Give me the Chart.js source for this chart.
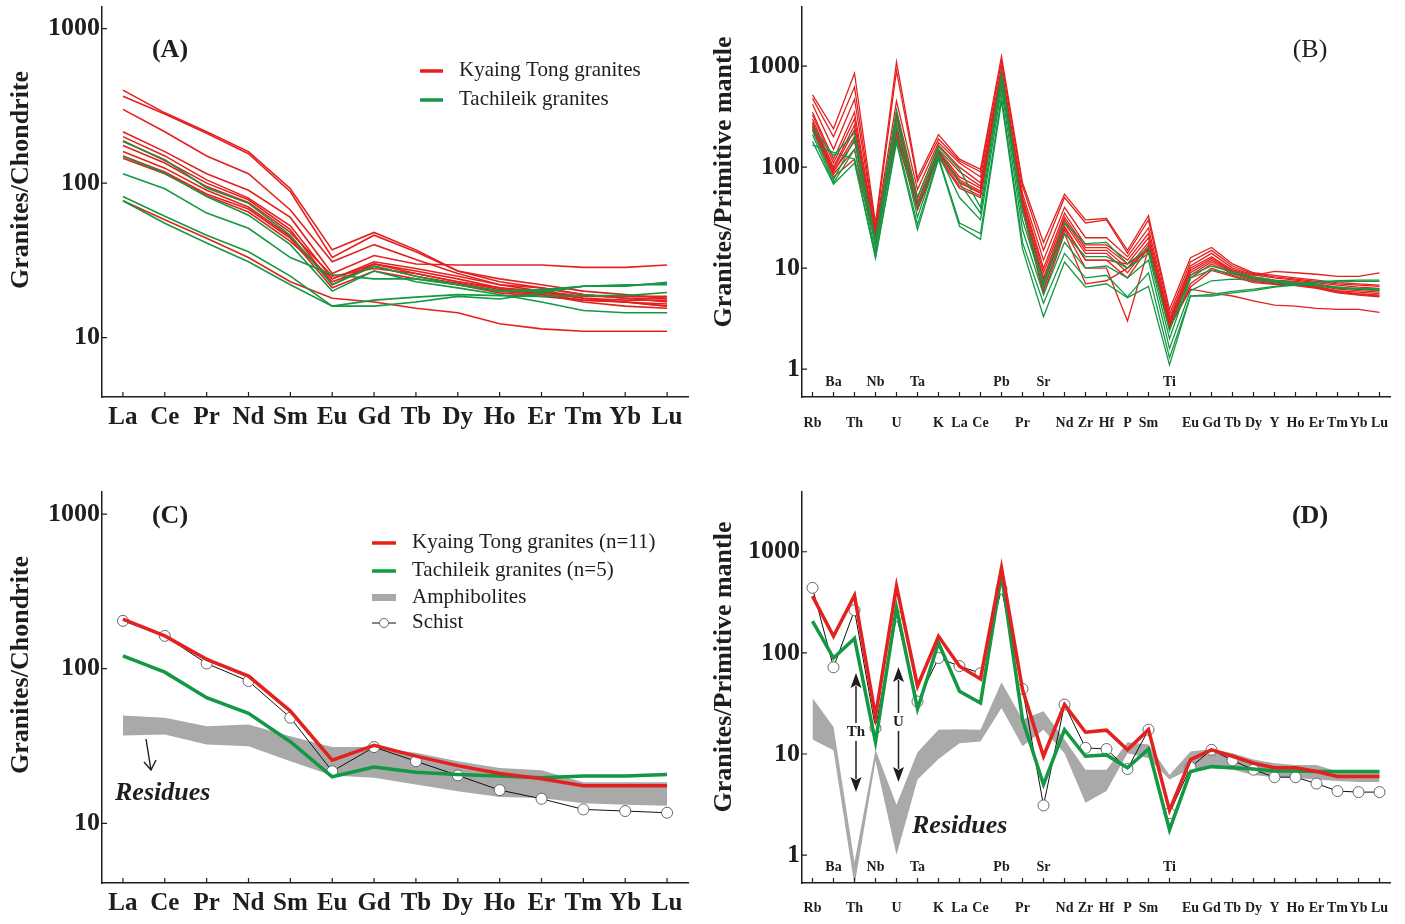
<!DOCTYPE html>
<html lang="en">
<head>
<meta charset="UTF-8">
<title>Chondrite and primitive mantle normalised patterns</title>
<script src="https://cdn.jsdelivr.net/npm/chart.js"></script>
<style>
  body { margin: 0; background: #fff; }
  #wrap { position: relative; width: 1405px; height: 924px; overflow: hidden; }
  #wrap canvas { position: absolute; }
  #cA { left: 0; top: 0; }
  #cB { left: 700px; top: 0; }
  #cC { left: 0; top: 462px; }
  #cD { left: 700px; top: 462px; }
</style>
</head>
<body>
<div id="wrap">
  <canvas id="cA" width="700" height="462"></canvas>
  <canvas id="cB" width="705" height="462"></canvas>
  <canvas id="cC" width="700" height="462"></canvas>
  <canvas id="cD" width="705" height="462"></canvas>
</div>
<script>
// ---- data ----
const reeLabels = ['La','Ce','Pr','Nd','Sm','Eu','Gd','Tb','Dy','Ho','Er','Tm','Yb','Lu'];
const spiderLabels = ['Rb','Ba','Th','Nb','U','Ta','K','La','Ce','Pb','Pr','Sr','Nd','Zr','Hf','P','Sm','Ti','Eu','Gd','Tb','Dy','Y','Ho','Er','Tm','Yb','Lu'];
const spiderRaised = ['Ba','Nb','Ta','Pb','Sr','Ti'];   // labels printed above the axis
const chondriteTicks = [10, 100, 1000];
const mantleTicks = [1, 10, 100, 1000];

// (A) individual samples, chondrite normalised
const kyaingTongREE = [
  [400, 285, 215, 160, 92, 37, 48, 37, 27, 23, 21, 19, 18, 17],
  [365, 280, 210, 155, 88, 33, 46, 36, 27, 24, 22, 20, 19, 18],
  [300, 215, 150, 115, 67, 31, 40, 32, 26, 22, 21, 19, 18, 18],
  [215, 160, 115, 90, 60, 26, 34, 30, 29.5, 29.5, 29.5, 28.5, 28.5, 29.5],
  [200, 150, 105, 80, 53, 24, 31, 28, 25, 22, 20, 18, 17, 16],
  [188, 140, 100, 78, 50, 22, 30, 27, 24, 21, 19, 17.5, 17, 16],
  [175, 135, 95, 75, 48, 25, 28, 26, 23, 20.5, 19.5, 18, 17.5, 17.5],
  [160, 125, 90, 70, 45, 23, 29, 25, 22.5, 20, 19, 17, 16, 15.5],
  [150, 118, 85, 68, 44, 21, 27, 24, 22, 19.5, 18.5, 17.5, 17, 16.5],
  [145, 115, 83, 65, 42, 24, 30, 26, 23, 21, 20, 18.5, 18.5, 18.5],
  [77, 58, 44, 33, 23, 18, 17, 15.5, 14.5, 12.3, 11.4, 11, 11, 11]
];
const tachileikREE = [
  [186, 142, 93, 74, 46, 22, 29, 25, 22, 20, 20, 21.5, 21.7, 22.6],
  [149, 116, 82, 62, 40, 20, 27, 23, 21, 19, 17, 15, 14.5, 14.5],
  [115, 92, 64, 51, 33, 25.5, 24, 24, 22, 20, 20.5, 21.5, 21.5, 22.8],
  [82, 61, 46, 36, 25, 16, 17.5, 18.3, 19, 18.7, 18.5, 18.7, 18.7, 19.6],
  [77, 55, 41, 31, 22, 16, 16, 17, 18.5, 17.8, 19.5, 21.5, 22, 22]
];

// (B) individual samples, primitive mantle normalised
const kyaingTongSpider = [
  [520, 240, 850, 28, 1100, 78, 210, 120, 95, 1250, 70, 18, 54, 30, 31, 15, 33, 3.9, 12.7, 16, 11, 9, 8.5, 8, 7.6, 7.2, 7, 6.8],
  [480, 200, 620, 25, 900, 72, 190, 115, 90, 1100, 65, 15, 50, 28, 30, 14, 30, 3.5, 11.5, 15, 10.5, 8.8, 8.2, 7.8, 7.4, 7, 6.8, 6.6],
  [420, 150, 470, 24, 450, 60, 175, 110, 80, 950, 55, 12, 40, 20, 20, 13, 25, 3.2, 10.5, 14, 10, 8.6, 8, 7.6, 7.2, 6.8, 6.5, 6.3],
  [350, 120, 350, 22, 350, 50, 165, 100, 70, 900, 50, 10, 35, 17, 17, 12, 22, 3.0, 10, 13, 9.6, 8.5, 9.3, 9, 8.7, 8.3, 8.3, 9],
  [330, 110, 300, 21, 330, 45, 150, 90, 65, 850, 48, 9, 32, 16, 16, 11, 20, 2.9, 9.5, 12.5, 9.4, 8.2, 7.6, 7.4, 7.0, 6.5, 6.2, 6.0],
  [300, 100, 260, 20, 300, 42, 145, 80, 62, 800, 45, 8, 30, 15, 15, 10, 18, 2.8, 9, 12, 9.2, 8.0, 7.4, 7.2, 6.8, 6.2, 6.0, 5.8],
  [280, 95, 235, 20, 260, 40, 140, 75, 58, 780, 42, 7.5, 28, 14, 14, 9, 17, 2.7, 8.5, 11.5, 9, 7.8, 7.3, 7, 6.6, 6.0, 5.8, 5.6],
  [260, 90, 200, 19, 230, 40, 135, 70, 55, 750, 40, 7, 26, 12, 12, 8, 16, 2.6, 8, 11, 8.8, 7.6, 7.1, 6.9, 6.5, 5.9, 5.6, 5.4],
  [250, 85, 150, 18, 210, 38, 130, 65, 52, 720, 38, 6, 24, 10, 10, 3.0, 15.5, 2.5, 7, 10, 8.5, 7.4, 7, 6.8, 6.4, 5.8, 5.5, 5.3],
  [240, 80, 120, 18, 200, 38, 125, 62, 50, 700, 38, 5.5, 22, 7, 7.5, 10, 15.5, 2.6, 6.5, 9.5, 8.3, 7.2, 6.9, 6.7, 6.3, 5.7, 5.4, 5.2],
  [270, 90, 180, 19, 240, 40, 140, 72, 56, 760, 40, 7, 25, 12, 12, 11, 15, 2.6, 6.2, 5.7, 5.3, 4.75, 4.3, 4.2, 4.0, 3.9, 3.9, 3.64]
];
const tachileikSpider = [
  [250, 130, 218, 19, 370, 50, 160, 95, 40, 850, 37, 7.2, 28, 17.5, 18, 11, 16, 2.4, 8.5, 10.5, 9.2, 8.2, 7.6, 7.2, 6.8, 6.4, 6.2, 6.2],
  [230, 75, 190, 16, 300, 40, 150, 70, 35, 700, 30, 6.5, 22, 13, 13, 10, 14, 2.0, 8, 9.6, 8.8, 8, 7.4, 7.0, 6.7, 6.3, 6.2, 6.0],
  [210, 70, 150, 14, 250, 32, 135, 50, 30, 600, 24, 5.5, 18, 10, 10.5, 8, 12, 1.6, 6, 7.5, 7.8, 7.6, 7.2, 6.9, 6.7, 6.5, 6.3, 6.2],
  [180, 68, 110, 13, 190, 27, 125, 28, 22, 500, 18, 4.5, 14, 8, 8.5, 5.2, 9, 1.3, 5.3, 5.3, 5.7, 6.0, 6.5, 6.8, 7.2, 7.3, 7.4, 7.4],
  [165, 140, 120, 12.5, 175, 24, 120, 26, 19.3, 450, 15.5, 3.3, 11.5, 6.5, 7, 5.1, 6.6, 1.1, 5.3, 5.5, 5.9, 6.2, 6.6, 7.0, 7.3, 7.5, 7.6, 7.6]
];

// (C) averages, schist and amphibolite field, chondrite normalised
const kyaingTongMeanREE = [209, 163, 115, 89.6, 53.2, 25.6, 31.9, 27.2, 23.6, 21, 19.4, 17.5, 17.5, 17.5];
const tachileikMeanREE = [121, 95, 65, 51.4, 33.7, 20, 23.1, 21.4, 20.7, 20.2, 19.7, 20.2, 20.2, 20.7];
const schistREE = [204, 163, 108, 83.2, 48.2, 21.7, 31.1, 25.2, 20.4, 16.4, 14.4, 12.3, 12.0, 11.7];
const amphiboliteREEUpper = [49.9, 48.2, 42.5, 43.6, 36.6, 31.1, 31.1, 28.6, 25.2, 22.8, 22, 18.4, 18.4, 18.4];
const amphiboliteREELower = [37, 37.6, 32.3, 31.5, 25.2, 20.4, 19.7, 17.8, 16.1, 14.8, 14.6, 13.5, 13.2, 13.0];

// (D) averages, schist and amphibolite field, primitive mantle normalised
const kyaingTongMeanSpider = [364, 146, 370, 23.6, 457, 46.8, 146, 73.8, 55.3, 695, 43.4, 9.5, 30.8, 16.4, 17.2, 11, 17.4, 2.77, 8.8, 11, 9.5, 8.1, 7.3, 7.3, 6.7, 6.0, 6.0, 6.0];
const tachileikMeanSpider = [206, 89, 139, 13.1, 279, 27.9, 126, 41.7, 32, 597, 21.9, 5.0, 17.4, 9.5, 9.8, 7.3, 11.2, 1.78, 6.7, 7.5, 7.3, 7.1, 6.8, 6.8, 6.7, 6.7, 6.7, 6.7];
const schistSpider = [440, 72, 264, 18, 231, 33, 89, 74, 63, 430, 44, 3.1, 30.8, 11.5, 11.2, 7.1, 17.4, 2.6, 7.4, 11, 8.65, 7.0, 5.9, 5.9, 5.1, 4.3, 4.2, 4.2];
const amphiboliteSpiderUpper = [35.8, 18.5, 0.85, 11, 3.15, 10.4, 17.4, 17.6, 17.4, 51.3, 21.9, 26.5, 13.9, 7.0, 7.0, 13.1, 12.4, 6.2, 10.6, 11.2, 10.2, 8.8, 8.1, 7.8, 7.8, 6.7, 6.7, 6.7];
const amphiboliteSpiderLower = [13.9, 10.9, 0.5, 8.6, 1.0, 5.6, 8.9, 12.8, 13.3, 28.5, 11.9, 17.4, 10.2, 3.3, 4.3, 10.2, 9.1, 5.6, 7.1, 7.3, 7.0, 6.2, 5.9, 5.8, 5.6, 5.4, 5.3, 5.3];

// ---- styling ----
const SERIF = '"Liberation Serif", "Times New Roman", serif';
const RED = '#e3211f';
const GREEN = '#139843';
const GREY = '#a9a9a9';
const INK = '#1e1e1e';
Chart.defaults.font.family = SERIF;

function sampleLines(rows, color, width, order) {
  return rows.map(r => ({ data: r, borderColor: color, borderWidth: width, pointRadius: 0, fill: false, order }));
}
function schistLine(data) {
  return { data, borderColor: '#111', borderWidth: 1, pointRadius: 5.5, pointBorderWidth: 1,
           pointBorderColor: '#666', pointBackgroundColor: '#fff', fill: false, order: 2 };
}
function band(upper, lower) {
  return [
    { data: upper, borderWidth: 0, borderColor: 'rgba(0,0,0,0)', pointRadius: 0, fill: '+1', backgroundColor: GREY, order: 3 },
    { data: lower, borderWidth: 0, borderColor: 'rgba(0,0,0,0)', pointRadius: 0, fill: false, order: 4 }
  ];
}

function yAxis(min, max, ticks) {
  return {
    type: 'logarithmic', min, max, bounds: 'data',
    afterBuildTicks: s => { s.ticks = ticks.map(v => ({ value: v })); },
    afterFit: s => { s.width = 102; s.paddingTop = 0; s.paddingBottom = 0; },
    grid: { display: false, drawTicks: false },
    border: { display: true, color: INK, width: 1.5 },
    ticks: { padding: 2, color: INK, font: { size: 26, weight: 'bold', lineHeight: 1 }, callback: v => String(v) }
  };
}
function xAxis(height, size, padding, hidden) {
  return {
    type: 'category', offset: true,
    afterFit: s => { s.height = height; s.paddingLeft = 0; s.paddingRight = 0; },
    grid: { display: false, drawTicks: false, offset: true },
    border: { display: true, color: INK, width: 1.5 },
    ticks: {
      autoSkip: false, maxRotation: 0, minRotation: 0, padding, color: INK,
      font: { size, weight: 'bold', lineHeight: 1 },
      callback: function (v, i) { const l = this.getLabelForValue(v); return hidden.includes(l) ? '' : l; }
    }
  };
}

function txt(ctx, s, x, y, font, align) {
  ctx.font = font; ctx.fillStyle = INK; ctx.textAlign = align || 'left'; ctx.textBaseline = 'middle';
  ctx.fillText(s, x, y);
}
function dblArrow(ctx, x, y1, y2) {
  const h = 15, w = 5.5;
  ctx.strokeStyle = INK; ctx.fillStyle = INK; ctx.lineWidth = 1.5;
  ctx.beginPath(); ctx.moveTo(x, y1 + h - 2); ctx.lineTo(x, y2 - h + 2); ctx.stroke();
  ctx.beginPath(); ctx.moveTo(x, y1); ctx.lineTo(x - w, y1 + h); ctx.lineTo(x, y1 + h - 3); ctx.lineTo(x + w, y1 + h); ctx.closePath(); ctx.fill();
  ctx.beginPath(); ctx.moveTo(x, y2); ctx.lineTo(x - w, y2 - h); ctx.lineTo(x, y2 - h + 3); ctx.lineTo(x + w, y2 - h); ctx.closePath(); ctx.fill();
}

// draws inward tick marks, axis title, panel letter, legend and notes
function decor(p) {
  return {
    id: 'decor',
    afterDraw(chart) {
      const ctx = chart.ctx, a = chart.chartArea, xs = chart.scales.x, ys = chart.scales.y;
      ctx.save();
      ctx.strokeStyle = INK; ctx.lineWidth = 1.2;
      ctx.beginPath();
      xs.ticks.forEach((t, i) => { const px = xs.getPixelForTick(i); ctx.moveTo(px, a.bottom); ctx.lineTo(px, a.bottom - 5); });
      ys.ticks.forEach(t => { const py = ys.getPixelForValue(t.value); ctx.moveTo(a.left, py); ctx.lineTo(a.left + 5, py); });
      ctx.stroke();
      if (p.raisedY) {
        chart.data.labels.forEach((l, i) => {
          if (spiderRaised.includes(l)) txt(ctx, l, xs.getPixelForValue(i), p.raisedY - p.oy, 'bold 14px ' + SERIF, 'center');
        });
      }
      ctx.translate(-p.ox, -p.oy);
      ctx.save();
      ctx.translate(p.title[1], p.title[2]); ctx.rotate(-Math.PI / 2);
      txt(ctx, p.title[0], 0, 0, 'bold 26px ' + SERIF, 'center');
      ctx.restore();
      txt(ctx, p.letter[0], p.letter[1], p.letter[2], (p.letter[3] ? 'bold ' : '') + '26px ' + SERIF, 'center');
      if (p.extra) p.extra(ctx, xs, p);
      ctx.restore();
    }
  };
}

function build(id, labels, datasets, yMin, yMax, yTicks, xa, pad, deco) {
  return new Chart(document.getElementById(id), {
    type: 'line',
    data: { labels, datasets },
    options: {
      responsive: false, animation: false, devicePixelRatio: 1, events: [],
      layout: { autoPadding: false, padding: pad },
      plugins: { legend: { display: false }, tooltip: { enabled: false } },
      elements: { line: { tension: 0 } },
      scales: { x: xa, y: yAxis(yMin, yMax, yTicks) }
    },
    plugins: [decor(deco)]
  });
}

// (A)
build('cA', reeLabels,
  [...sampleLines(tachileikREE, GREEN, 1.6, 0), ...sampleLines(kyaingTongREE, RED, 1.6, 1)],
  4.13, 1380, chondriteTicks, xAxis(65, 25, 8.5, []),
  { left: 0, top: 7, right: 12, bottom: 0 },
  { ox: 0, oy: 0, title: ['Granites/Chondrite', 21, 180], letter: ['(A)', 170, 50, true],
    extra: ctx => {
      ctx.lineWidth = 3.5;
      ctx.strokeStyle = RED; ctx.beginPath(); ctx.moveTo(420, 71); ctx.lineTo(443, 71); ctx.stroke();
      ctx.strokeStyle = GREEN; ctx.beginPath(); ctx.moveTo(420, 100); ctx.lineTo(443, 100); ctx.stroke();
      txt(ctx, 'Kyaing Tong granites', 459, 70, '21px ' + SERIF);
      txt(ctx, 'Tachileik granites', 459, 99, '21px ' + SERIF);
    } });

// (B)
build('cB', spiderLabels,
  [...sampleLines(tachileikSpider, GREEN, 1.3, 0), ...sampleLines(kyaingTongSpider, RED, 1.3, 1)],
  0.53, 3850, mantleTicks, xAxis(65, 14, 19, spiderRaised),
  { left: 0, top: 7, right: 15, bottom: 0 },
  { ox: 700, oy: 0, raisedY: 382, title: ['Granites/Primitive mantle', 724, 182], letter: ['(B)', 1310, 50, false] });

// (C)
build('cC', reeLabels,
  [{ ...sampleLines([kyaingTongMeanREE], RED, 3.5, 0)[0] },
   { ...sampleLines([tachileikMeanREE], GREEN, 3.5, 1)[0] },
   schistLine(schistREE), ...band(amphiboliteREEUpper, amphiboliteREELower)],
  4.11, 1390, chondriteTicks, xAxis(41, 25, 8.5, []),
  { left: 0, top: 30, right: 12, bottom: 0 },
  { ox: 0, oy: 462, title: ['Granites/Chondrite', 21, 665], letter: ['(C)', 170, 516, true],
    extra: ctx => {
      ctx.lineWidth = 3.5;
      ctx.strokeStyle = RED; ctx.beginPath(); ctx.moveTo(372, 543); ctx.lineTo(396, 543); ctx.stroke();
      ctx.strokeStyle = GREEN; ctx.beginPath(); ctx.moveTo(372, 571); ctx.lineTo(396, 571); ctx.stroke();
      ctx.fillStyle = GREY; ctx.fillRect(372, 594, 24, 7);
      ctx.strokeStyle = '#111'; ctx.lineWidth = 1; ctx.beginPath(); ctx.moveTo(372, 623); ctx.lineTo(396, 623); ctx.stroke();
      ctx.fillStyle = '#fff'; ctx.strokeStyle = '#666'; ctx.beginPath(); ctx.arc(384, 623, 4.5, 0, Math.PI * 2); ctx.fill(); ctx.stroke();
      txt(ctx, 'Kyaing Tong granites (n=11)', 412, 542, '21px ' + SERIF);
      txt(ctx, 'Tachileik granites (n=5)', 412, 570, '21px ' + SERIF);
      txt(ctx, 'Amphibolites', 412, 597, '21px ' + SERIF);
      txt(ctx, 'Schist', 412, 622, '21px ' + SERIF);
      // residue arrow
      ctx.strokeStyle = INK; ctx.lineWidth = 1.4;
      ctx.beginPath(); ctx.moveTo(146, 739); ctx.lineTo(151, 770);
      ctx.moveTo(144, 762); ctx.lineTo(151, 770); ctx.lineTo(156, 760); ctx.stroke();
      txt(ctx, 'Residues', 115, 793, 'italic bold 26px ' + SERIF);
    } });

// (D)
build('cD', spiderLabels,
  [{ ...sampleLines([kyaingTongMeanSpider], RED, 3.5, 0)[0] },
   { ...sampleLines([tachileikMeanSpider], GREEN, 3.5, 1)[0] },
   schistLine(schistSpider), ...band(amphiboliteSpiderUpper, amphiboliteSpiderLower)],
  0.53, 3900, mantleTicks, xAxis(41, 14, 18, spiderRaised),
  { left: 0, top: 30, right: 15, bottom: 0 },
  { ox: 700, oy: 462, raisedY: 867, title: ['Granites/Primitive mantle', 724, 667], letter: ['(D)', 1310, 516, true],
    extra: (ctx, xs, p) => {
      const xTh = xs.getPixelForValue(spiderLabels.indexOf('Th')) + p.ox + 1.5;
      const xU = xs.getPixelForValue(spiderLabels.indexOf('U')) + p.ox + 2;
      dblArrow(ctx, xTh, 673, 792);
      dblArrow(ctx, xU, 667, 782);
      ctx.fillStyle = '#fff';
      ctx.fillRect(xTh - 10, 723, 20, 18);
      ctx.fillRect(xU - 7, 713, 14, 18);
      txt(ctx, 'Th', xTh, 732, 'bold 15px ' + SERIF, 'center');
      txt(ctx, 'U', xU, 722, 'bold 15px ' + SERIF, 'center');
      txt(ctx, 'Residues', 912, 826, 'italic bold 26px ' + SERIF);
    } });
</script>
</body>
</html>
